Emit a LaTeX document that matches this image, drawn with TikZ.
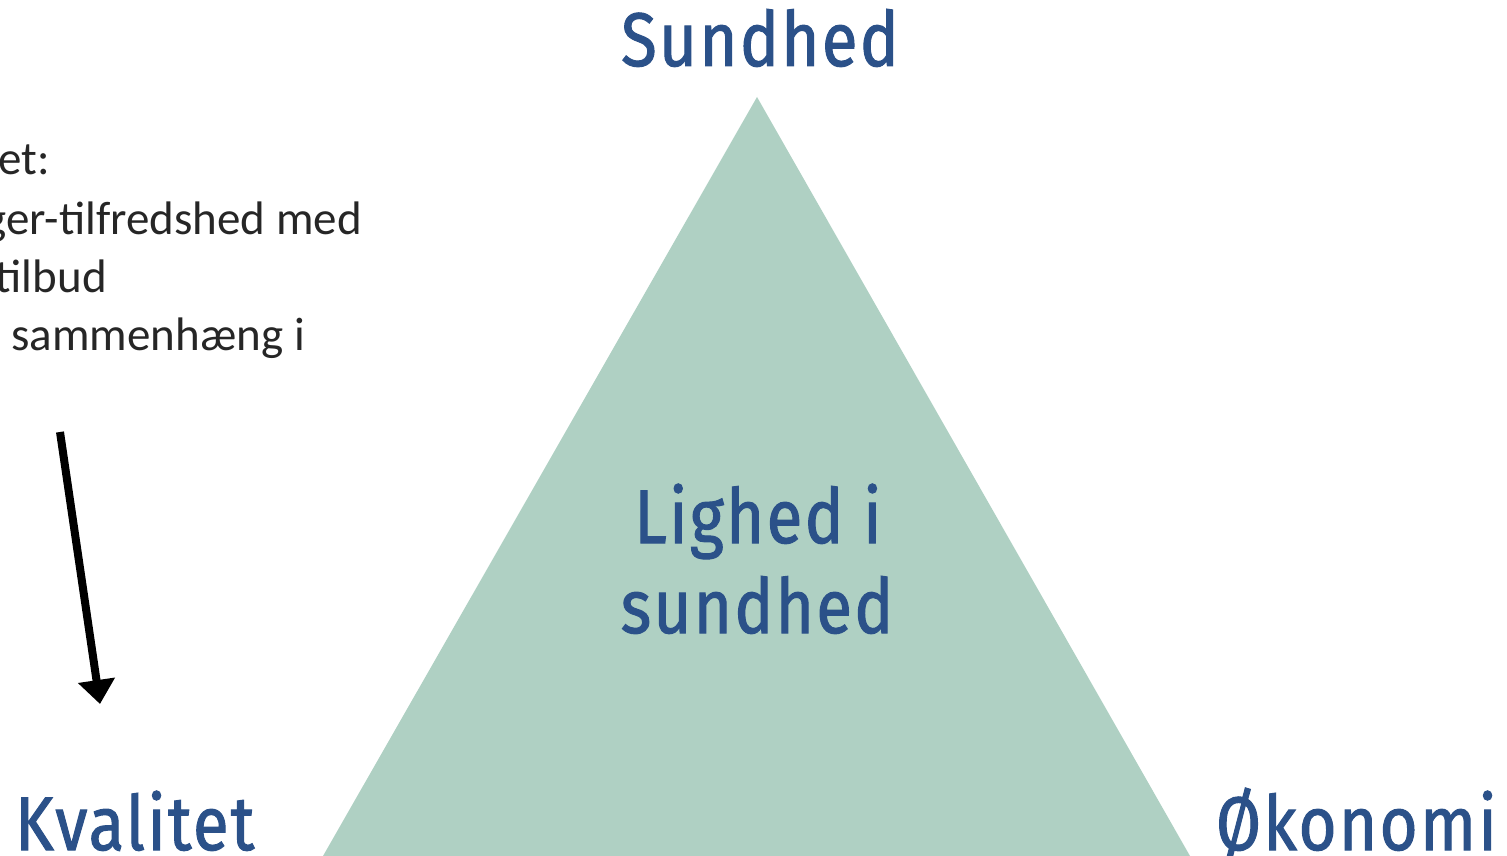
\documentclass[tikz,border=0pt]{standalone}
\usepackage{fontspec}
\usetikzlibrary{arrows.meta}
\newfontfamily\labelfont{Fira Sans}[FakeStretch=0.86,FakeBold=1.3,LetterSpace=3]
\newfontfamily\bodyfont{Carlito}
\definecolor{triFill}{HTML}{AFD0C3}
\definecolor{labelBlue}{HTML}{2B5189}
\definecolor{bodyText}{HTML}{262626}
\tikzset{
  biglabel/.style={text=labelBlue, font=\labelfont\fontsize{76}{86}\selectfont, inner sep=0pt},
  bodyline/.style={text=bodyText, font=\bodyfont\fontsize{47}{56}\selectfont, inner sep=0pt, anchor=base east},
  arrowline/.style={line width=8pt, -{Triangle[width=36pt,length=24pt]}}
}
\begin{document}
\begin{tikzpicture}[x=1pt,y=-1pt]
\useasboundingbox (0,0) rectangle (1507,856);
\clip (0,0) rectangle (1507,856);
\fill[white] (0,0) rectangle (1507,856);
% triangle
\coordinate (apex) at (757,97);
\coordinate (bl) at (323,856);
\coordinate (br) at (1190,856);
\fill[triFill] (apex) -- (bl) -- (br) -- cycle;
% labels
\node[biglabel, anchor=base] (sundhed) at (760,66) {Sundhed};
\node[biglabel, anchor=base west] (kvalitet) at (15,850) {Kvalitet};
\node[biglabel, anchor=base east] (okonomi) at (1497,850) {Økonomi};
\node[biglabel, anchor=base] (lighed) at (758,543) {Lighed i};
\node[biglabel, anchor=base] (sund2) at (757,633) {sundhed};
% left text (cut off)
\node[bodyline] (l1) at (50,175) {et:};
\node[bodyline] (l2) at (362,234) {ger-tilfredshed med};
\node[bodyline] (l3) at (107,292) {tilbud};
\node[bodyline] (l4) at (305,350) {sammenhæng i};
% arrow
\coordinate (as) at (60,432);
\coordinate (ae) at (100,704);
\draw[arrowline] (as) -- (ae);
\end{tikzpicture}
\end{document}
